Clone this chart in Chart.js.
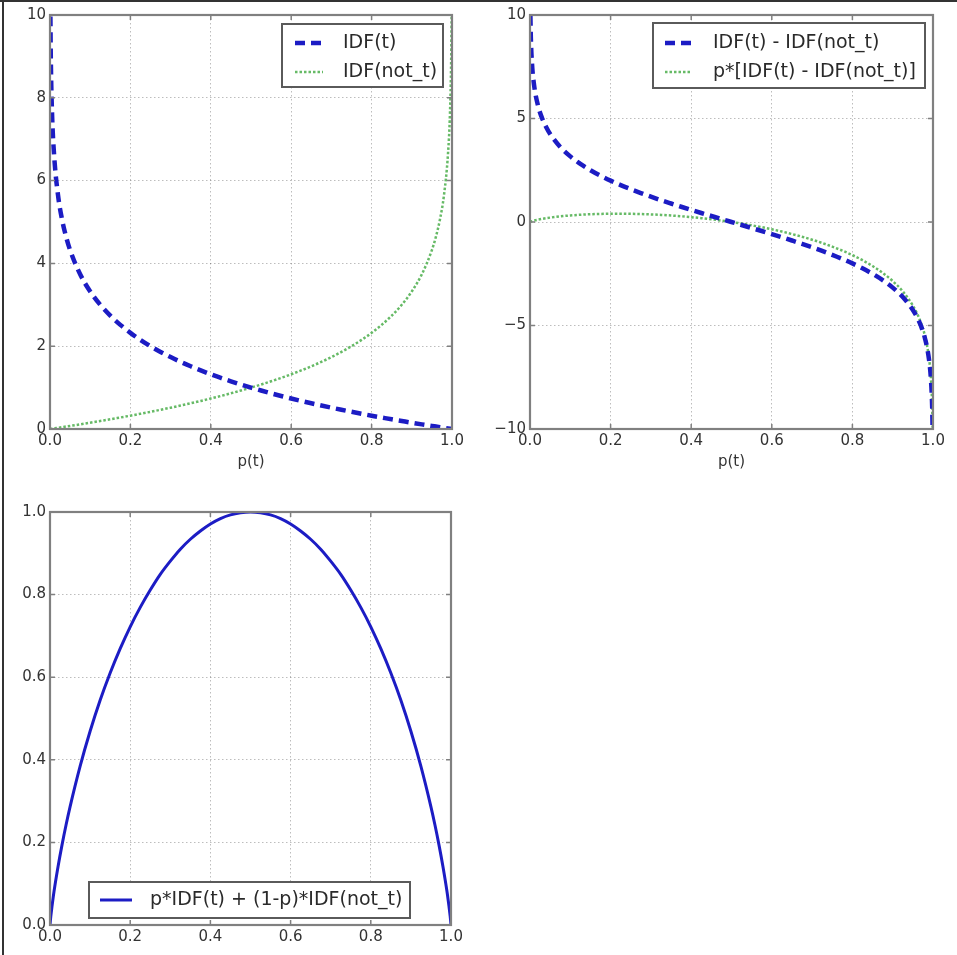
<!DOCTYPE html>
<html><head><meta charset="utf-8">
<script src="https://cdn.jsdelivr.net/npm/chart.js@4.4.1/dist/chart.umd.min.js"></script>
<style>
html,body{margin:0;padding:0;background:#fff;}
#wrap{position:relative;width:957px;height:955px;overflow:hidden;background:#fff;}
canvas{position:absolute;}
#c1{left:0;top:0}
#c2{left:478px;top:0}
#c3{left:0;top:478px}
#bl{position:absolute;left:2px;top:0;width:2px;height:955px;background:#333;}
#bt{position:absolute;left:0;top:0;width:957px;height:2px;background:#333;}
</style></head><body>
<div id="wrap">
<canvas id="c1" width="478" height="478"></canvas>
<canvas id="c2" width="479" height="478"></canvas>
<canvas id="c3" width="478" height="477"></canvas>
<div id="bl"></div><div id="bt"></div>
</div>
<script>
// ---- data ----
const pValues = [0, 0.001, 0.002, 0.005, 0.01, 0.02, 0.03, 0.04,
  0.05, 0.075, 0.1, 0.125, 0.15, 0.175, 0.2, 0.225, 0.25, 0.275, 0.3, 0.325, 0.35, 0.375, 0.4, 0.425, 0.45, 0.475,
  0.5, 0.525, 0.55, 0.575, 0.6, 0.625, 0.65, 0.675, 0.7, 0.725, 0.75, 0.775, 0.8, 0.825, 0.85, 0.875, 0.9, 0.925, 0.95,
  0.96, 0.97, 0.98, 0.99, 0.995, 0.998, 0.999, 1];
const idfT = [null, 9.966, 8.966, 7.644, 6.644, 5.644, 5.059, 4.644,
  4.322, 3.737, 3.322, 3.000, 2.737, 2.515, 2.322, 2.152, 2.000, 1.862, 1.737, 1.621, 1.515, 1.415, 1.322, 1.234, 1.152, 1.074,
  1.000, 0.930, 0.862, 0.798, 0.737, 0.678, 0.621, 0.567, 0.515, 0.464, 0.415, 0.368, 0.322, 0.278, 0.234, 0.193, 0.152, 0.112, 0.074,
  0.059, 0.044, 0.029, 0.014, 0.007, 0.003, 0.001, 0];
const idfNotT = [0, 0.001, 0.003, 0.007, 0.014, 0.029, 0.044, 0.059,
  0.074, 0.112, 0.152, 0.193, 0.234, 0.278, 0.322, 0.368, 0.415, 0.464, 0.515, 0.567, 0.621, 0.678, 0.737, 0.798, 0.862, 0.930,
  1.000, 1.074, 1.152, 1.234, 1.322, 1.415, 1.515, 1.621, 1.737, 1.862, 2.000, 2.152, 2.322, 2.515, 2.737, 3.000, 3.322, 3.737, 4.322,
  4.644, 5.059, 5.644, 6.644, 7.644, 8.966, 9.966, null];
const idfDiff = [null, 9.965, 8.963, 7.637, 6.630, 5.615, 5.015, 4.585,
  4.248, 3.625, 3.170, 2.807, 2.503, 2.237, 2.000, 1.784, 1.585, 1.398, 1.222, 1.054, 0.894, 0.737, 0.585, 0.436, 0.290, 0.144,
  0, -0.144, -0.290, -0.436, -0.585, -0.737, -0.894, -1.054, -1.222, -1.398, -1.585, -1.784, -2.000, -2.237, -2.503, -2.807, -3.170, -3.625, -4.248,
  -4.585, -5.015, -5.615, -6.630, -7.637, -8.963, -9.965, null];
const pTimesDiff = [0, 0.010, 0.018, 0.038, 0.066, 0.112, 0.150, 0.183,
  0.212, 0.272, 0.317, 0.351, 0.375, 0.391, 0.400, 0.401, 0.396, 0.384, 0.367, 0.343, 0.313, 0.276, 0.234, 0.185, 0.131, 0.068,
  0, -0.076, -0.160, -0.251, -0.351, -0.461, -0.581, -0.711, -0.855, -1.014, -1.189, -1.383, -1.600, -1.846, -2.128, -2.456, -2.853, -3.353, -4.036,
  -4.402, -4.865, -5.503, -6.564, -7.599, -8.945, -9.955, null];
const entropy = [0, 0.011, 0.021, 0.045, 0.081, 0.141, 0.194, 0.242,
  0.286, 0.384, 0.469, 0.544, 0.610, 0.669, 0.722, 0.769, 0.811, 0.849, 0.881, 0.910, 0.934, 0.954, 0.971, 0.984, 0.993, 0.998,
  1.000, 0.998, 0.993, 0.984, 0.971, 0.954, 0.934, 0.910, 0.881, 0.849, 0.811, 0.769, 0.722, 0.669, 0.610, 0.544, 0.469, 0.384, 0.286,
  0.242, 0.194, 0.141, 0.081, 0.045, 0.021, 0.011, 0];

const xTickValues = [0, 0.2, 0.4, 0.6, 0.8, 1.0];
const xTickLabels = ['0.0', '0.2', '0.4', '0.6', '0.8', '1.0'];
const y1TickValues = [0, 2, 4, 6, 8, 10];
const y1TickLabels = ['0', '2', '4', '6', '8', '10'];
const y2TickValues = [-10, -5, 0, 5, 10];
const y2TickLabels = ['\u221210', '\u22125', '0', '5', '10'];
const y3TickValues = [0, 0.2, 0.4, 0.6, 0.8, 1.0];
const y3TickLabels = ['0.0', '0.2', '0.4', '0.6', '0.8', '1.0'];

const seriesLabels = ['IDF(t)', 'IDF(not_t)', 'IDF(t) - IDF(not_t)', 'p*[IDF(t) - IDF(not_t)]', 'p*IDF(t) + (1-p)*IDF(not_t)'];
const xTitle = 'p(t)';

// ---- rendering ----
Chart.defaults.font.family = '"DejaVu Sans", sans-serif';
Chart.defaults.color = '#333';

const pts = arr => pValues.map((p, i) => ({x: p, y: arr[i]}));
const BLUE = '#1c1cc4';
const GREEN = '#66ba66';

function dashed(label, arr) {
  return {label, data: pts(arr), borderColor: BLUE, borderWidth: 4.5, borderDash: [10, 6],
    pointRadius: 0, fill: false, cubicInterpolationMode: 'monotone'};
}
function dotted(label, arr) {
  return {label, data: pts(arr), borderColor: GREEN, borderWidth: 2.5, borderDash: [2.5, 2],
    pointRadius: 0, fill: false, cubicInterpolationMode: 'monotone'};
}

function decor(lg) {
  return {
    id: 'decor',
    afterDatasetsDraw(chart) {
      const {ctx, chartArea: a, scales: {x, y}} = chart;
      ctx.save();
      ctx.strokeStyle = '#808080';
      ctx.lineWidth = 1.5;
      ctx.beginPath();
      x.ticks.forEach(t => {
        const px = x.getPixelForValue(t.value);
        ctx.moveTo(px, a.bottom); ctx.lineTo(px, a.bottom - 5);
        ctx.moveTo(px, a.top); ctx.lineTo(px, a.top + 5);
      });
      y.ticks.forEach(t => {
        const py = y.getPixelForValue(t.value);
        ctx.moveTo(a.left, py); ctx.lineTo(a.left + 5, py);
        ctx.moveTo(a.right, py); ctx.lineTo(a.right - 5, py);
      });
      ctx.stroke();
      ctx.lineWidth = 2.2;
      ctx.strokeRect(a.left, a.top, a.right - a.left, a.bottom - a.top);
      // legend
      ctx.fillStyle = '#fff';
      ctx.fillRect(lg.x0, lg.y0, lg.x1 - lg.x0, lg.y1 - lg.y0);
      ctx.strokeStyle = '#5a5a5a';
      ctx.lineWidth = 2;
      ctx.strokeRect(lg.x0, lg.y0, lg.x1 - lg.x0, lg.y1 - lg.y0);
      chart.data.datasets.forEach((ds, i) => {
        const cy = lg.rows[i];
        ctx.beginPath();
        ctx.setLineDash(ds.borderDash || []);
        ctx.strokeStyle = ds.borderColor;
        ctx.lineWidth = ds.borderWidth;
        ctx.moveTo(lg.hx0, cy); ctx.lineTo(lg.hx1, cy);
        ctx.stroke();
        ctx.setLineDash([]);
        ctx.fillStyle = '#2a2a2a';
        ctx.font = '19px "DejaVu Sans", sans-serif';
        ctx.textBaseline = 'middle';
        ctx.textAlign = 'left';
        ctx.fillText(ds.label, lg.tx, cy);
      });
      ctx.restore();
    }
  };
}

function axisX(withTitle, height) {
  return {
    type: 'linear', min: 0, max: 1,
    afterBuildTicks: s => { s.ticks = xTickValues.map(v => ({value: v})); },
    afterFit: s => { s.height = height; },
    ticks: {autoSkip: false, maxRotation: 0, padding: 3, font: {size: 15}, color: '#333',
      callback: (v, i) => xTickLabels[i]},
    grid: {color: 'rgba(0,0,0,0.26)', lineWidth: 1, drawTicks: false},
    border: {display: false, dash: [1.5, 2.5]},
    title: {display: withTitle, text: xTitle, font: {size: 15}, color: '#333', padding: {top: 0, bottom: 7}}
  };
}
function axisY(min, max, vals, labels, width) {
  return {
    type: 'linear', min, max,
    afterBuildTicks: s => { s.ticks = vals.map(v => ({value: v})); },
    afterFit: s => { s.width = width; },
    ticks: {autoSkip: false, padding: 4, font: {size: 15}, color: '#333',
      callback: (v, i) => labels[i]},
    grid: {color: 'rgba(0,0,0,0.26)', lineWidth: 1, drawTicks: false},
    border: {display: false, dash: [1.5, 2.5]}
  };
}
function baseOptions(padding, scales) {
  return {
    responsive: false, animation: false, maintainAspectRatio: false,
    layout: {padding},
    plugins: {legend: {display: false}, tooltip: {enabled: false}},
    events: [],
    scales
  };
}

new Chart(document.getElementById('c1'), {
  type: 'line',
  data: {datasets: [dashed(seriesLabels[0], idfT), dotted(seriesLabels[1], idfNotT)]},
  options: baseOptions({left: 0, top: 15, right: 26, bottom: 0},
    {x: axisX(true, 49), y: axisY(0, 10, y1TickValues, y1TickLabels, 50)}),
  plugins: [decor({x0: 282, x1: 443, y0: 24, y1: 87, hx0: 295, hx1: 323, tx: 343, rows: [43, 72]})]
});

new Chart(document.getElementById('c2'), {
  type: 'line',
  data: {datasets: [dashed(seriesLabels[2], idfDiff), dotted(seriesLabels[3], pTimesDiff)]},
  options: baseOptions({left: 0, top: 15, right: 24, bottom: 0},
    {x: axisX(true, 49), y: axisY(-10, 10, y2TickValues, y2TickLabels, 52)}),
  plugins: [decor({x0: 175, x1: 447, y0: 23, y1: 88, hx0: 187, hx1: 214, tx: 235, rows: [43, 72]})]
});

new Chart(document.getElementById('c3'), {
  type: 'line',
  data: {datasets: [{label: seriesLabels[4], data: pts(entropy), borderColor: BLUE, borderWidth: 3,
    pointRadius: 0, fill: false, cubicInterpolationMode: 'monotone'}]},
  options: baseOptions({left: 0, top: 34, right: 27, bottom: 0},
    {x: axisX(false, 30), y: axisY(0, 1, y3TickValues, y3TickLabels, 50)}),
  plugins: [decor({x0: 89, x1: 410, y0: 404, y1: 440, hx0: 100, hx1: 132, tx: 150, rows: [422]})]
});
</script>
</body></html>
